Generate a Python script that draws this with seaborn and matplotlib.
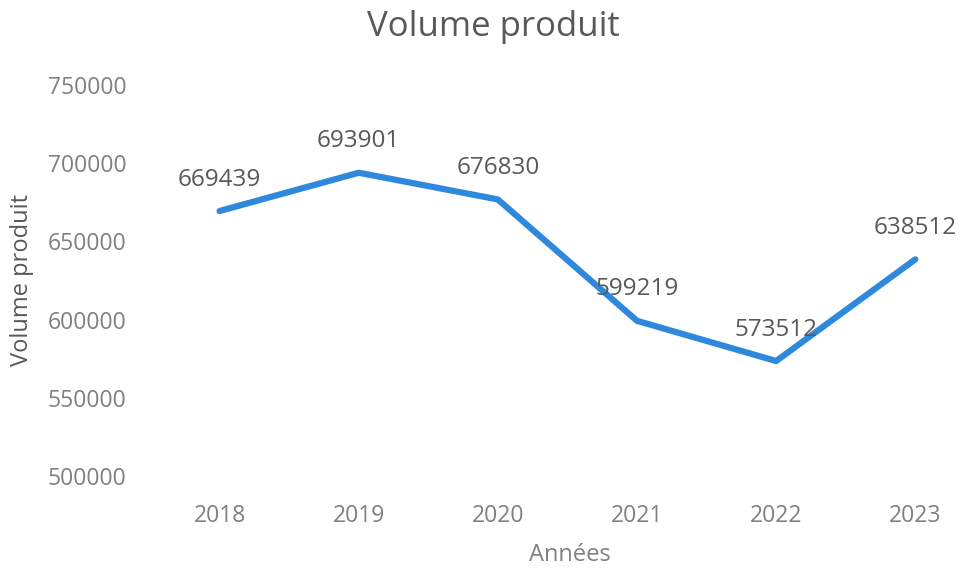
import pandas as pd
import matplotlib
matplotlib.use("Agg")
import matplotlib.pyplot as plt
import seaborn as sns

# ---------------- DATA ----------------
years = ["2018", "2019", "2020", "2021", "2022", "2023"]
volumes = [669439, 693901, 676830, 599219, 573512, 638512]
y_ticks = [500000, 550000, 600000, 650000, 700000, 750000]

df = pd.DataFrame({"Années": years, "Volume produit": volumes})

# ---------------- STYLE ----------------
sns.set_theme(style="white")
plt.rcParams["font.family"] = ["Open Sans", "DejaVu Sans"]

line_color = "#2E88DB"
label_color = "#595959"
tick_color = "#808080"

fig = plt.figure(figsize=(9.64, 5.70), dpi=100)
ax = fig.add_axes([150 / 964, 1 - 476 / 570, 814 / 964, 391 / 570])

# ---------------- PLOT ----------------
sns.lineplot(data=df, x="Années", y="Volume produit", ax=ax,
             color=line_color, linewidth=4.5, sort=False)

# data labels above each point
for x, v in zip(df["Années"], df["Volume produit"]):
    ax.annotate(str(v), (x, v), xytext=(0, 14), textcoords="offset points",
                ha="center", va="bottom", fontsize=17.5, color=label_color)

ax.set_ylim(y_ticks[0], y_ticks[-1])
ax.set_xlim(-0.5, 5.35)
ax.set_yticks(y_ticks)
ax.tick_params(axis="y", colors=tick_color, labelsize=16.5, pad=17, length=0)
ax.tick_params(axis="x", colors=tick_color, labelsize=16.5, pad=20, length=0)
sns.despine(ax=ax, left=True, bottom=True)
ax.grid(False)

ax.set_ylabel("Volume produit", fontsize=17, color=label_color, va="center")
ax.yaxis.set_label_coords(-0.157, 0.5)
ax.set_xlabel("Années", fontsize=17, color=tick_color, va="center")
ax.xaxis.set_label_coords(0.516, -0.202)

fig.text(493 / 964, 1 - 27 / 570, "Volume produit", ha="center", va="center",
         fontsize=25, color=label_color)

fig.savefig("out.png", dpi=100)
